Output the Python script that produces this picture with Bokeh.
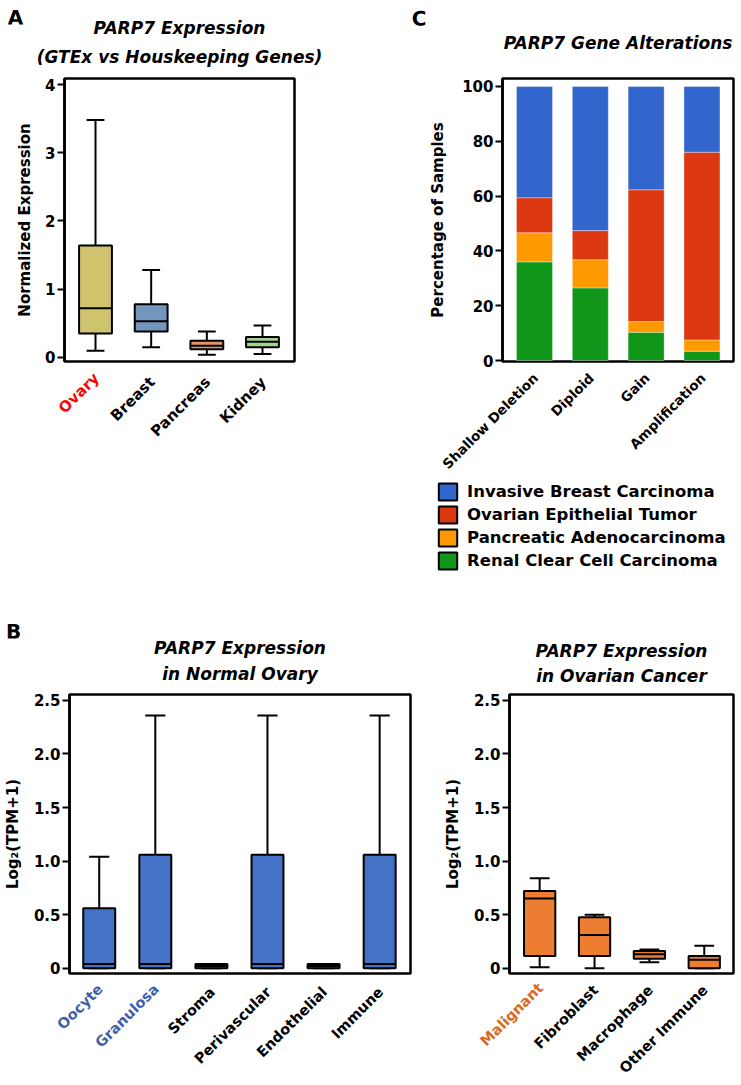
import math
import numpy as np
from bokeh.plotting import figure
from bokeh.models import (Range1d, FixedTicker, LinearAxis, ColumnDataSource,
                          Legend, LegendItem)
from bokeh.layouts import column, row
from bokeh.embed import file_html
from bokeh.resources import INLINE

FONT = "DejaVu Sans"
NBSP = "\u00a0"

# ---------------- Panel A data ----------------
a_tissues = ["Ovary", "Breast", "Pancreas", "Kidney"]
a_min = [0.10, 0.15, 0.04, 0.05]
a_q1 = [0.35, 0.38, 0.12, 0.15]
a_med = [0.72, 0.53, 0.17, 0.23]
a_q3 = [1.64, 0.78, 0.245, 0.30]
a_max = [3.48, 1.28, 0.38, 0.47]
a_fills = ["#CFC36E", "#7396BC", "#E4956A", "#A3D48E"]
a_label_colors = ["#FF0000", "black", "black", "black"]
a_ticks = [0, 1, 2, 3, 4]
a_tick_labels = ["0", "1", "2", "3", "4"]

# ---------------- Panel C data ----------------
c_groups = ["Shallow Deletion", "Diploid", "Gain", "Amplification"]
c_renal = [36.0, 26.5, 10.3, 3.4]
c_pancreatic = [10.6, 10.3, 3.9, 4.1]
c_ovarian = [12.8, 10.6, 48.1, 68.5]
c_breast = [40.6, 52.6, 37.7, 24.0]
c_names = ["Invasive Breast Carcinoma", "Ovarian Epithelial Tumor",
           "Pancreatic Adenocarcinoma", "Renal Clear Cell Carcinoma"]
c_colors = ["#3366CC", "#DC3912", "#FF9900", "#109618"]
c_ticks = [0, 20, 40, 60, 80, 100]
c_tick_labels = ["0", "20", "40", "60", "80", "100"]

# ---------------- Panel B (normal ovary) ----------------
bl_cells = ["Oocyte", "Granulosa", "Stroma", "Perivascular", "Endothelial", "Immune"]
bl_min = [0.0, 0.0, 0.0, 0.0, 0.0, 0.0]
bl_q1 = [0.0, 0.0, 0.0, 0.0, 0.0, 0.0]
bl_med = [0.04, 0.04, 0.02, 0.04, 0.02, 0.04]
bl_q3 = [0.56, 1.06, 0.04, 1.06, 0.04, 1.06]
bl_max = [1.04, 2.36, 0.04, 2.36, 0.04, 2.36]
bl_label_colors = ["#3D62AA", "#3D62AA", "black", "black", "black", "black"]

# ---------------- Panel B (ovarian cancer) ----------------
br_cells = ["Malignant", "Fibroblast", "Macrophage", "Other Immune"]
br_min = [0.01, 0.0, 0.055, 0.0]
br_q1 = [0.115, 0.115, 0.088, 0.0]
br_med = [0.65, 0.31, 0.13, 0.08]
br_q3 = [0.72, 0.475, 0.16, 0.115]
br_max = [0.84, 0.50, 0.175, 0.21]
br_label_colors = ["#D96A1E", "black", "black", "black"]

b_ticks = [0, 0.5, 1.0, 1.5, 2.0, 2.5]
b_tick_labels = ["0", "0.5", "1.0", "1.5", "2.0", "2.5"]


def make_fig(width, height, left, right, top, bottom, xr, yr, ticks, tick_labels,
             ylabel, ylabel_standoff):
    p = figure(width=width, height=height, x_range=Range1d(*xr), y_range=Range1d(*yr),
               output_backend="svg", toolbar_location=None, x_axis_location=None,
               min_border_left=left, min_border_right=right,
               min_border_top=top, min_border_bottom=bottom)
    p.title.visible = False
    p.xgrid.visible = False
    p.ygrid.visible = False
    p.outline_line_color = "black"
    p.outline_line_width = 2.5
    p.outline_line_alpha = 1.0
    p.background_fill_color = "white"
    p.border_fill_color = "white"
    ax = p.yaxis[0]
    ax.ticker = FixedTicker(ticks=ticks)
    ax.major_label_overrides = {float(t): l for t, l in zip(ticks, tick_labels)}
    ax.axis_line_width = 2.5
    ax.axis_line_color = "black"
    ax.major_tick_line_width = 2
    ax.major_tick_line_color = "black"
    ax.major_tick_out = 7
    ax.major_tick_in = 0
    ax.minor_tick_line_color = None
    ax.major_label_standoff = 2
    ax.major_label_text_font = FONT
    ax.major_label_text_font_style = "bold"
    ax.major_label_text_font_size = "15px"
    ax.major_label_text_color = "black"
    ax.axis_label = ylabel
    ax.axis_label_standoff = ylabel_standoff
    ax.axis_label_text_font = FONT
    ax.axis_label_text_font_style = "bold"
    ax.axis_label_text_font_size = "15px"
    ax.axis_label_text_color = "black"
    return p


def plain_axis(**kw):
    return LinearAxis(axis_line_color=None, major_tick_line_color=None,
                      minor_tick_line_color=None, major_tick_out=0, major_tick_in=0,
                      minor_tick_out=0, **kw)


def add_top_axis(p, text, als, letter=None, letter_x=None, nb=0, ls=0):
    """Invisible top axis whose axis label is a title line; optional panel letter."""
    kw = dict(axis_label=text, axis_label_standoff=als,
              axis_label_text_font=FONT, axis_label_text_font_style="bold italic",
              axis_label_text_font_size="17px", axis_label_text_color="black",
              major_label_standoff=ls)
    if letter is None:
        kw["ticker"] = FixedTicker(ticks=[])
    else:
        kw["ticker"] = FixedTicker(ticks=[letter_x])
        kw["major_label_overrides"] = {letter_x: letter + NBSP * nb}
        kw["major_label_orientation"] = -0.001
        kw["major_label_text_font"] = FONT
        kw["major_label_text_font_style"] = "bold"
        kw["major_label_text_font_size"] = "20px"
        kw["major_label_text_color"] = "black"
    p.add_layout(plain_axis(**kw), "above")


def add_cat_axes(p, cats, colors, xr, fw, size, s0, ext_first=0, shift_px=1):
    """Rotated category labels; the coloured ones sit on a first axis, black on a second."""
    shift = shift_px / (fw / (xr[1] - xr[0]))
    p.extra_x_ranges = {"lab": Range1d(xr[0] - shift, xr[1] - shift)}
    groups = list(dict.fromkeys(colors))
    groups.sort(key=lambda c: c == "black")
    for k, col in enumerate(groups):
        idx = [i for i, c in enumerate(colors) if c == col]
        ax = plain_axis(x_range_name="lab", ticker=FixedTicker(ticks=idx),
                        major_label_overrides={i: cats[i] for i in idx},
                        major_label_orientation=math.pi / 4,
                        major_label_standoff=s0 if k == 0 else -ext_first,
                        major_label_text_font=FONT, major_label_text_font_style="bold",
                        major_label_text_font_size=size, major_label_text_color=col)
        p.add_layout(ax, "below")


def draw_boxes(p, cats, mn, q1, med, q3, mx, fills, box_w, cap_w):
    x = np.arange(len(cats), dtype=float)
    src = ColumnDataSource(dict(x=x, x0=x - box_w / 2, x1=x + box_w / 2,
                                c0=x - cap_w / 2, c1=x + cap_w / 2,
                                mn=mn, q1=q1, med=med, q3=q3, mx=mx, fill=fills))
    kw = dict(source=src, line_color="black", line_width=2)
    p.segment(x0="x", y0="q3", x1="x", y1="mx", **kw)
    p.segment(x0="x", y0="q1", x1="x", y1="mn", **kw)
    p.segment(x0="c0", y0="mx", x1="c1", y1="mx", **kw)
    p.segment(x0="c0", y0="mn", x1="c1", y1="mn", **kw)
    p.vbar(x="x", width=box_w, bottom="q1", top="q3", fill_color="fill", **kw)
    p.segment(x0="x0", y0="med", x1="x1", y1="med", **kw)


# ---------------- Panel A ----------------
xrA, yrA = (-0.557, 3.575), (-0.059, 4.088)
pA = make_fig(369, 481, 64, 75, 78, 120, xrA, yrA, a_ticks, a_tick_labels,
              "Normalized Expression", 8)
draw_boxes(pA, a_tissues, a_min, a_q1, a_med, a_q3, a_max, a_fills, 0.59, 0.32)
add_cat_axes(pA, a_tissues, a_label_colors, xrA, 230, "15px", 14, ext_first=47)
add_top_axis(pA, "(GTEx vs Houskeeping Genes)", 12)
add_top_axis(pA, "PARP7 Expression", -48, letter="A", letter_x=xrA[0] + 0.01, nb=6, ls=26)

# ---------------- Panel C ----------------
xrC, yrC = (-0.573, 3.565), (-0.36, 102.9)
pC = make_fig(372, 481, 133, 8, 78, 120, xrC, yrC, c_ticks, c_tick_labels,
              "Percentage of Samples", 12)
srcC = ColumnDataSource(dict(x=np.arange(len(c_groups), dtype=float),
                             renal=c_renal, pancreatic=c_pancreatic,
                             ovarian=c_ovarian, breast=c_breast))
pC.vbar_stack(["renal", "pancreatic", "ovarian", "breast"], x="x", width=0.645,
              fill_color=c_colors[::-1], line_color="white", line_alpha=0.35, line_width=1,
              source=srcC)
add_cat_axes(pC, c_groups, ["black"] * len(c_groups), xrC, 231, "13.5px", 14)
add_top_axis(pC, "PARP7 Gene Alterations", -62, letter="C", letter_x=xrC[0] + 0.01,
             nb=11, ls=60)

# legend of panel C, drawn in a full-width strip below the top row
pL = figure(width=741, height=119, x_range=Range1d(0, 1), y_range=Range1d(0, 1),
            output_backend="svg", toolbar_location=None, x_axis_location=None,
            y_axis_location=None, min_border=0, min_border_left=64, min_border_right=8,
            min_border_top=0, min_border_bottom=0)
pL.title.visible = False
pL.grid.visible = False
pL.outline_line_color = None
pL.background_fill_color = "white"
pL.border_fill_color = "white"
items = []
for name, col in zip(c_names, c_colors):
    # legend proxy glyph kept outside the visible range
    r = pL.quad(left=[-10], right=[-9], top=[-9], bottom=[-10], fill_color=col,
                line_color="black", line_width=2)
    items.append(LegendItem(label=name, renderers=[r]))
leg = Legend(items=items, location=(372, 29), orientation="vertical",
             glyph_width=23, glyph_height=21, spacing=2, padding=0, margin=0,
             label_standoff=8, label_text_font=FONT, label_text_font_style="bold",
             label_text_font_size="16.5px", label_text_color="black",
             border_line_alpha=0, background_fill_alpha=0)
pL.add_layout(leg)

# ---------------- Panel B left ----------------
xrBl, yrB = (-0.53, 5.55), (-0.049, 2.555)
pBl = make_fig(440, 485, 66, 30, 94, 109, xrBl, yrB, b_ticks, b_tick_labels,
               "Log\u2082(TPM+1)", 9)
draw_boxes(pBl, bl_cells, bl_min, bl_q1, bl_med, bl_q3, bl_max,
           ["#4472C4"] * len(bl_cells), 0.57, 0.36)
add_cat_axes(pBl, bl_cells, bl_label_colors, xrBl, 344, "14.5px", 13, ext_first=70)
add_top_axis(pBl, "in Normal Ovary", 11)
add_top_axis(pBl, "PARP7 Expression", -54, letter="B", letter_x=xrBl[0] + 0.01, nb=7, ls=29)

# ---------------- Panel B right ----------------
xrBr = (-0.55, 3.533)
pBr = make_fig(301, 485, 63, 8, 94, 109, xrBr, yrB, b_ticks, b_tick_labels,
               "Log\u2082(TPM+1)", 9)
draw_boxes(pBr, br_cells, br_min, br_q1, br_med, br_q3, br_max,
           ["#ED7D31"] * len(br_cells), 0.57, 0.36)
add_cat_axes(pBr, br_cells, br_label_colors, xrBr, 230, "14.5px", 12, ext_first=70)
add_top_axis(pBr, "in Ovarian Cancer", 9)
add_top_axis(pBr, "PARP7 Expression", 2)

layout = column(row(pA, pC), pL, row(pBl, pBr))
open("out.html", "w").write(file_html(layout, INLINE))
